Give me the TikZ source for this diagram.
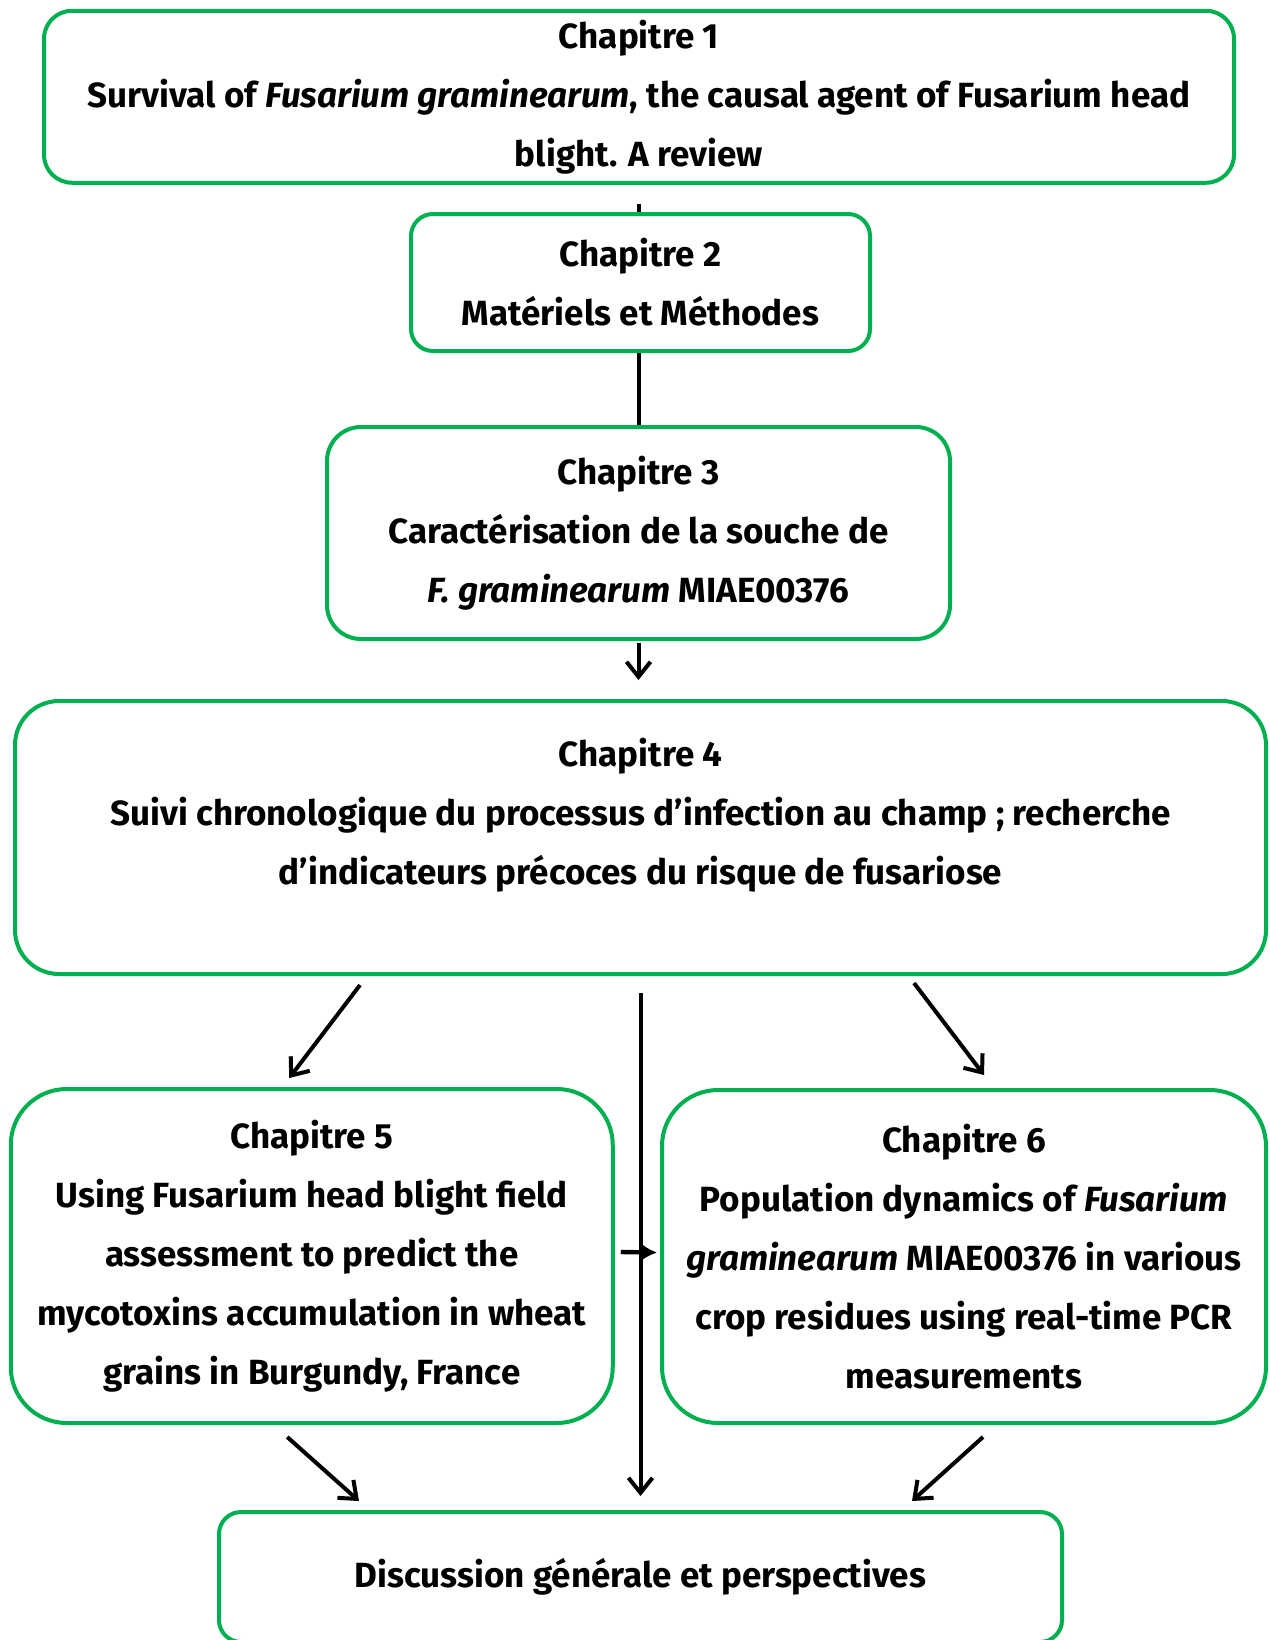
\documentclass[tikz,border=0pt]{standalone}
\usepackage{fontspec}
\setmainfont{Fira Sans}
\usepackage{xcolor}
\usetikzlibrary{arrows.meta, calc}
\definecolor{chapgreen}{HTML}{00B050}

\begin{document}
\begin{tikzpicture}[x=0.5pt, y=-0.5pt,
    chapbox/.style={rectangle, draw=chapgreen, line width=2pt, rounded corners=#1, align=center, inner sep=0pt, font=\fontsize{17.5}{29.5}\selectfont\bfseries},
    chapbox/.default=14pt,
    link/.style={line width=2pt},
    flow/.style={-{Straight Barb[length=7.5pt, width=12pt, line width=2pt]}, line width=2pt},
    push/.style={-{Latex[length=8pt, width=9pt]}, line width=2.2pt}]
    \useasboundingbox (0,0) rectangle (1270,1640);
    \node[chapbox=14pt, minimum width=595pt, minimum height=86pt] (c1) at (639,96.75) {Chapitre 1 \\ Survival of \textit{Fusarium graminearum}, the causal agent of Fusarium head \\ blight. A review};
    \node[chapbox=11pt, minimum width=229.5pt, minimum height=68.5pt] (c2) at (640.5,282.5) {Chapitre 2 \\ Matériels et Méthodes};
    \node[chapbox=17pt, minimum width=311.5pt, minimum height=106pt] (c3) at (638.5,533) {Chapitre 3 \\ Caractérisation de la souche de \\ \textit{F. graminearum} MIAE00376};
    \node[chapbox=22pt, minimum width=625.5pt, minimum height=136.5pt, text depth=26pt] (c4) at (640.5,837.5) {Chapitre 4 \\ Suivi chronologique du processus d’infection au champ ; recherche \\ d’indicateurs précoces du risque de fusariose};
    \node[chapbox=28pt, minimum width=301pt, minimum height=167pt] (c5) at (311.75,1256) {Chapitre 5 \\ Using Fusarium head blight field \\ assessment to predict the \\ mycotoxins accumulation in wheat \\ grains in Burgundy, France};
    \node[chapbox=28pt, minimum width=302pt, minimum height=166.5pt] (c6) at (964,1256.5) {Chapitre 6 \\ Population dynamics of \textit{Fusarium} \\ \textit{graminearum} MIAE00376 in various \\ crop residues using real-time PCR \\ measurements};
    \node[chapbox=11pt, minimum width=421.5pt, minimum height=65pt] (c7) at (640.5,1577) {Discussion générale et perspectives};

    \draw[link, shorten <=9.5pt] (c1.south -| c3.south) -- (c2.north -| c3.south);
    \draw[link] (c2.south -| c3.south) -- (c3.north);
    \draw[flow, shorten <=1pt, shorten >=9.5pt] (c3.south) -- (c3.south |- c4.north);
    \draw[flow] ($(c4.south)+(-280.5,9)$) -- ($(c5.north)+(-22.5,-9)$);
    \draw[flow] ($(c4.south)+(273.5,7)$) -- ($(c6.north)+(20,-13)$);
    \draw[flow, shorten <=8.5pt, shorten >=7pt] (c4.south) -- (c7.north);
    \draw[push] ($(c5.east)+(6,-4)$) -- ($(c6.west)+(-3,-4)$);
    \draw[flow] ($(c5.south)+(-24.5,12)$) -- ($(c7.north)+(-281.5,-9)$);
    \draw[flow] ($(c6.south)+(19,12)$) -- ($(c7.north)+(271.5,-9)$);
\end{tikzpicture}
\end{document}
